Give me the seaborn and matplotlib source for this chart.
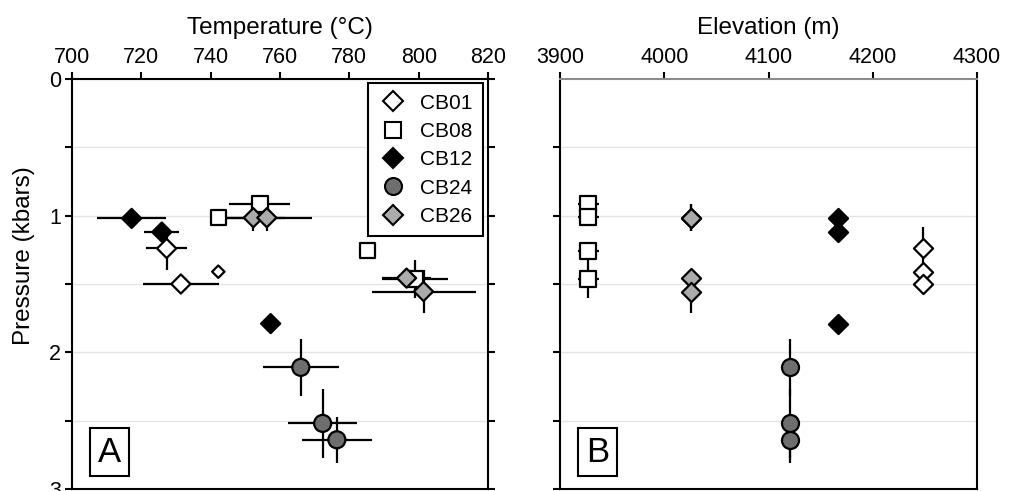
import numpy as np
import pandas as pd
import seaborn as sns
import matplotlib.pyplot as plt
from matplotlib.lines import Line2D

sns.set_theme(style="white")
plt.rcParams["font.family"] = ["Liberation Sans", "DejaVu Sans"]
plt.rcParams.update({"text.color": "black", "axes.labelcolor": "black",
                     "xtick.color": "black", "ytick.color": "black"})

samples = ["CB01", "CB08", "CB12", "CB24", "CB26"]

# temperature (C), temperature error, pressure (kbar), pressure error
cb01_T = [727.3, 742.2, 731.4]
cb01_Terr = [6, 0, 11]
cb01_P = [1.24, 1.41, 1.50]
cb01_Perr = [0.16, 0, 0]

cb08_T = [754.2, 742.2, 785.3, 799.0]
cb08_Terr = [8.8, 0, 0, 9.5]
cb08_P = [0.915, 1.012, 1.255, 1.463]
cb08_Perr = [0, 0, 0, 0.14]

cb12_T = [717.2, 725.9, 757.3]
cb12_Terr = [10, 5, 0]
cb12_P = [1.02, 1.12, 1.79]
cb12_Perr = [0, 0, 0]

cb24_T = [766.0, 772.3, 776.4]
cb24_Terr = [11, 10, 10]
cb24_P = [2.11, 2.52, 2.64]
cb24_Perr = [0.21, 0.25, 0.17]

cb26_T = [752.3, 756.2, 796.5, 801.4]
cb26_Terr = [9, 13, 7, 15]
cb26_P = [1.015, 1.015, 1.457, 1.555]
cb26_Perr = [0.1, 0.1, 0, 0.16]

# sample elevation (m) and elevation error
elevation = [4248, 3927, 4167, 4121, 4026]
elevation_err = [0, 10, 0, 0, 0]

temps = [cb01_T, cb08_T, cb12_T, cb24_T, cb26_T]
temp_errs = [cb01_Terr, cb08_Terr, cb12_Terr, cb24_Terr, cb26_Terr]
press = [cb01_P, cb08_P, cb12_P, cb24_P, cb26_P]
press_errs = [cb01_Perr, cb08_Perr, cb12_Perr, cb24_Perr, cb26_Perr]

rows = []
for i, name in enumerate(samples):
    for t, te, p, pe in zip(temps[i], temp_errs[i], press[i], press_errs[i]):
        rows.append(dict(sample=name, T=t, Terr=te, P=p, Perr=pe,
                         elev=elevation[i], elev_err=elevation_err[i]))
df = pd.DataFrame(rows)

markers = {"CB01": "D", "CB08": "s", "CB12": "D", "CB24": "o", "CB26": "D"}
fills = {"CB01": "white", "CB08": "white", "CB12": "black",
         "CB24": "#6e6e6e", "CB26": "#ababab"}
sizes = {"CB01": 95, "CB08": 125, "CB12": 95, "CB24": 150, "CB26": 95}

fig = plt.figure(figsize=(10.14, 4.91), dpi=100)
ax1 = fig.add_axes([0.0710, 0.0041, 0.4103, 0.835])
ax2 = fig.add_axes([0.5523, 0.0041, 0.4112, 0.835])

for name in samples:
    d = df[df["sample"] == name]
    # left: T-P
    ax1.errorbar(d["T"], d["P"], xerr=d["Terr"], yerr=d["Perr"], fmt="none",
                 ecolor="black", elinewidth=1.6, capsize=0, zorder=2)
    s = np.full(len(d), sizes[name])
    if name == "CB01":
        s[1] = 40  # small marker in panel A
    ax1.scatter(d["T"], d["P"], s=s, marker=markers[name], c=fills[name],
                edgecolors="black", linewidths=1.6, zorder=3)
    # right: elevation-P
    ax2.errorbar(d["elev"], d["P"], xerr=d["elev_err"], yerr=d["Perr"], fmt="none",
                 ecolor="black", elinewidth=1.6, capsize=0, zorder=2)
    sns.scatterplot(x=d["elev"], y=d["P"], ax=ax2, s=sizes[name], marker=markers[name],
                    color=fills[name], edgecolor="black", linewidth=1.6, zorder=3,
                    legend=False)

for ax in (ax1, ax2):
    ax.set_ylim(3, 0)
    ax.xaxis.tick_top()
    ax.xaxis.set_label_position("top")
    ax.set_yticks([0, 1, 2, 3])
    ax.set_yticks([0.5, 1.5, 2.5], minor=True)
    ax.grid(axis="y", which="both", color="#e4e4e4", lw=1)
    ax.set_axisbelow(True)
    for sp in ax.spines.values():
        sp.set_color("black")
        sp.set_linewidth(1.5)
    ax.tick_params(axis="both", which="both", direction="out", length=5, width=1.5,
                   color="black", labelcolor="black", labelsize=15.5, pad=3)
    ax.tick_params(axis="x", top=True, bottom=False)

ax1.set_xlim(700, 820)
ax1.set_xticks(np.arange(700, 821, 20))
ax1.tick_params(axis="y", which="both", left=True, right=True)
ax1.set_xlabel("Temperature (°C)", fontsize=17.5, labelpad=9)
ax1.set_ylabel("Pressure (kbars)", fontsize=17.5, labelpad=8)
ax1.yaxis.set_label_coords(-0.09, 0.57)

ax2.set_xlim(3900, 4300)
ax2.set_xticks(np.arange(3900, 4301, 100))
ax2.tick_params(axis="y", which="both", left=True, right=False, labelleft=False)
ax2.set_yticks([0.5, 1, 1.5, 2, 2.5, 3], minor=False)
ax2.set_xlabel("Elevation (m)", fontsize=17.5, labelpad=9)
ax2.set_ylabel("")
ax2.spines["top"].set_color("#8c8c8c")

for ax, letter in ((ax1, "A"), (ax2, "B")):
    ax.text(0.09, 0.09, letter, transform=ax.transAxes, fontsize=25,
            ha="center", va="center", zorder=5,
            bbox=dict(boxstyle="square,pad=0.22", fc="white", ec="black", lw=1.5))

handles = [Line2D([], [], ls="none", marker=markers[n], markerfacecolor=fills[n],
                  markeredgecolor="black", markeredgewidth=1.5,
                  markersize=np.sqrt(sizes[n])) for n in samples]
leg = ax1.legend(handles, samples, loc="upper right", bbox_to_anchor=(0.988, 0.99),
                 borderaxespad=0, fontsize=15, frameon=True, fancybox=False,
                 framealpha=1, edgecolor="black", handletextpad=0.6,
                 labelspacing=0.45, borderpad=0.5, handlelength=1.4)
leg.get_frame().set_linewidth(1.5)

fig.savefig("out.png", dpi=100)
